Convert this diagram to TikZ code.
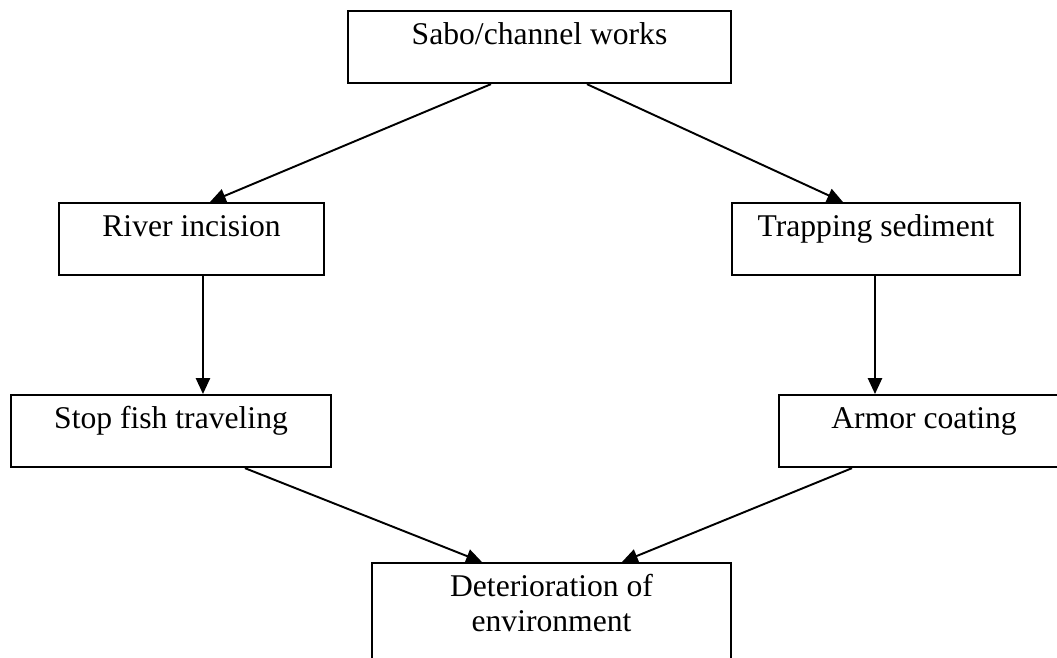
\documentclass[tikz,border=0pt]{standalone}
\usepackage{fontspec}
\setmainfont{Liberation Serif}
\usepackage{tikz}
\usetikzlibrary{arrows.meta}
\tikzset{box/.style={draw, line width=1.2pt, rectangle, anchor=north west, inner ysep=0pt,
    text height=18.8pt, text depth=22.2pt, font=\fontsize{18pt}{20pt}\selectfont}}

\begin{document}
\begin{tikzpicture}[x=0.02cm, y=-0.02cm, line width=1.1pt, >={Triangle[length=9pt, width=8pt]}]
        \useasboundingbox (0,0) rectangle (1057,657);
        \clip (0,0) rectangle (1057,657);

        % Nodes
        \node[box, minimum width=7.66cm] (sabo) at (347,10) {Sabo/channel works};
        \node[box, minimum width=5.3cm] (inc) at (58,202) {River incision};
        \node[box, minimum width=5.76cm] (trap) at (731,202) {Trapping sediment};
        \node[box, minimum width=6.4cm] (fish) at (10,394) {Stop fish traveling};
        \node[box, minimum width=5.8cm] (armor) at (778,394) {Armor coating};
        \node[box, minimum width=7.18cm, align=center, text height=38.8pt, text depth=30pt] (env) at (371,562) {Deterioration of\\environment};

        % Directed edges
        \draw[->] ([xshift=2.88cm]sabo.south west) -- ([xshift=3.04cm]inc.north west);
        \draw[->] ([xshift=4.8cm]sabo.south west) -- ([xshift=2.24cm]trap.north west);
        \draw[->] ([xshift=2.9cm]inc.south west) -- ([xshift=3.86cm]fish.north west);
        \draw[->] ([xshift=2.88cm]trap.south west) -- ([xshift=1.94cm]armor.north west);
        \draw[->] ([xshift=4.7cm]fish.south west) -- ([xshift=2.22cm]env.north west);
        \draw[->] ([xshift=1.48cm]armor.south west) -- ([xshift=5.02cm]env.north west);
    \end{tikzpicture}
\end{document}
